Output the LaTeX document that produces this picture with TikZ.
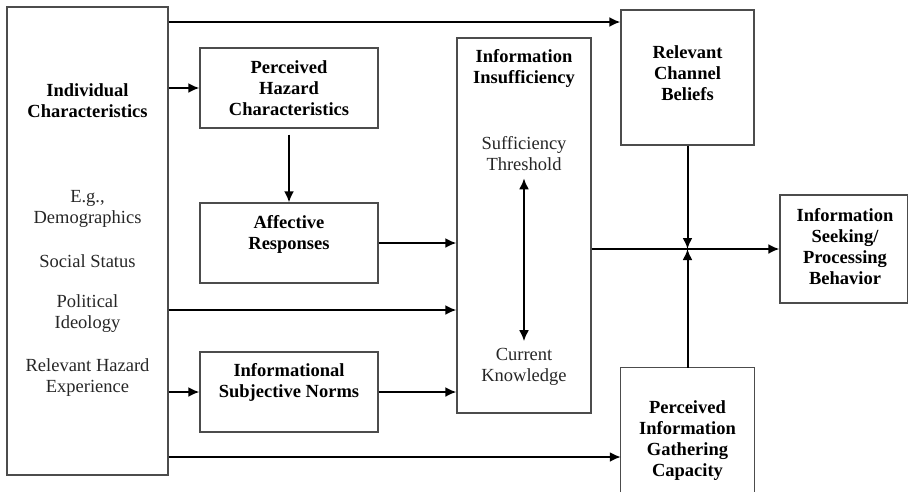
\documentclass[tikz,border=0pt]{standalone}
\usepackage{fontspec}
\setmainfont{Liberation Serif}
\usetikzlibrary{arrows.meta}
\usetikzlibrary{calc}
\usetikzlibrary{positioning}

\begin{document}
\begin{tikzpicture}
	[
	x=1pt, y=-1pt,
	> = {Latex[length=11pt,width=10pt]},
	every node/.style = {font=\fontsize{18.5}{21}\selectfont, align=center, inner sep=0pt},
	box/.style = {draw=black!70, line width=1.3pt},
	head/.style = {font=\fontsize{18.5}{21}\selectfont\bfseries},
	item/.style = {text=black!85},
	arrow/.style = {->, line width=2pt}
	]
	\useasboundingbox (0,0) rectangle (909,501);
	\node[box, minimum width=161pt, minimum height=468pt] (ind) at (87.5,241) {};
	\node[head] (indt) at (87.5,101) {Individual\\Characteristics};
	\node[item] (eg) at (87.5,209) {E.g.,\\Demographics};
	\node[item] (ss) at (87.5,261) {Social Status};
	\node[item] (pi) at (87.5,314) {Political\\Ideology};
	\node[item] (rhe) at (87.5,378) {Relevant Hazard\\Experience};
	\node[box, head, minimum width=178pt, minimum height=80pt] (phc) at (289,88) {Perceived\\Hazard\\Characteristics};
	\node[box, minimum width=178pt, minimum height=80pt] (ar) at (289,243) {};
	\node[head, yshift=9pt] (art) at (ar.center) {Affective\\Responses};
	\node[box, minimum width=178pt, minimum height=80pt] (sn) at (289,392) {};
	\node[head, yshift=10pt] (snt) at (sn.center) {Informational\\Subjective Norms};
	\node[box, minimum width=134pt, minimum height=375pt] (iins) at (524,225.5) {};
	\node[head] (iinst) at (524,68) {Information\\Insufficiency};
	\node[item] (st) at (524,154) {Sufficiency\\Threshold};
	\node[item] (ck) at (524,367) {Current\\Knowledge};
	\node[box, minimum width=133pt, minimum height=135pt] (rcb) at (687.5,77.5) {};
	\node[head] (rcbt) at (687.5,73) {Relevant\\Channel\\Beliefs};
	\node[minimum width=133pt, minimum height=124pt] (pigc) at (687.5,430) {};
	\draw[box] (pigc.south west) |- (pigc.north east) -- (pigc.south east);
	\node[head] (pigct) at (687.5,441) {Perceived\\Information\\Gathering\\Capacity};
	\node[box, minimum width=127.5pt, minimum height=108pt] (isb) at (843.75,249) {};
	\node[head] (isbt) at (845,247) {Information\\Seeking/\\Processing\\Behavior};
	\draw[arrow] (ind.east |- 0,22) -- (rcb.west |- 0,22);
	\draw[arrow] (ind.east |- phc.west) -- (phc.west);
	\draw[arrow, shorten <=6pt] (phc) -- (ar);
	\draw[arrow] (ar.east) -- (ar.east -| iins.west);
	\draw[arrow] (ind.east |- 0,310) -- (iins.west |- 0,310);
	\draw[arrow] (ind.east |- sn.west) -- (sn.west);
	\draw[arrow] (sn.east) -- (sn.east -| iins.west);
	\draw[arrow] (ind.east |- 0,457) -- (pigc.west |- 0,457);
	\draw[arrow] (iins.east |- isb.west) -- (isb.west);
	\draw[arrow] (rcb.south) -- (rcb.south |- isb.west);
	\draw[arrow] (pigc.north) -- (pigc.north |- isb.west);
	\draw[arrow, <->, shorten <=7pt, shorten >=7pt] (st.south) -- (ck.north);
\end{tikzpicture}
\end{document}
